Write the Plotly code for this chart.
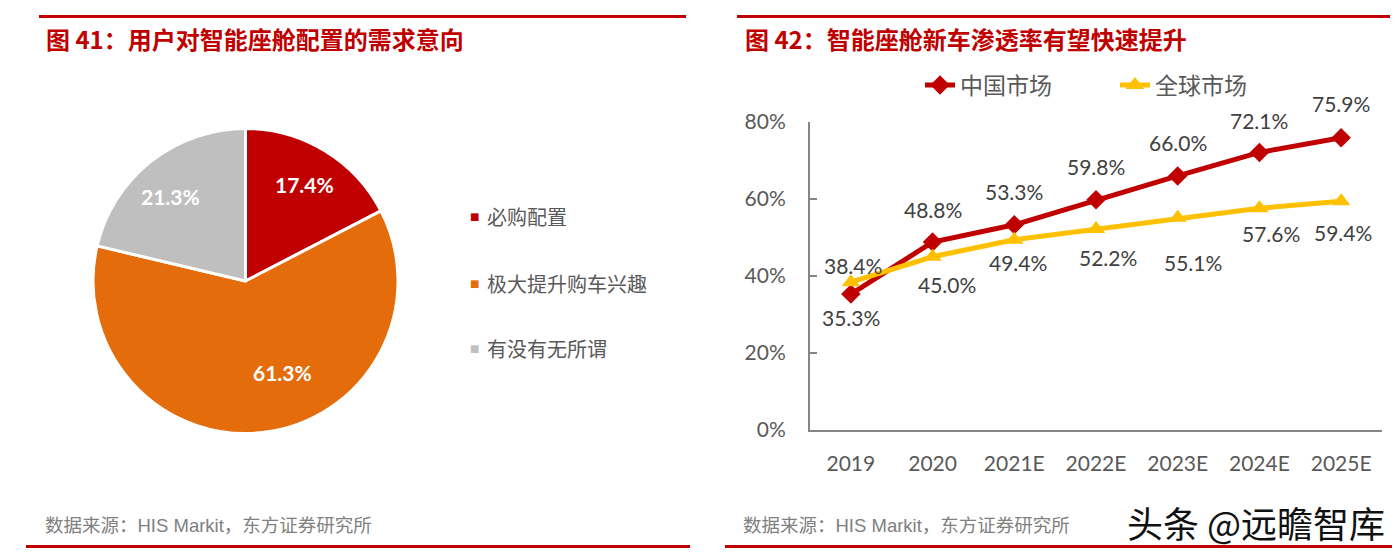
import math
import plotly.graph_objects as go

W, H = 1396, 559

# ---------------- data ----------------
pie_labels = ["必购配置", "极大提升购车兴趣", "有没有无所谓"]
pie_values = [17.4, 61.3, 21.3]
pie_colors = ["#C00000", "#E46C0A", "#BFBFBF"]

years = ["2019", "2020", "2021E", "2022E", "2023E", "2024E", "2025E"]
china = [35.3, 48.8, 53.3, 59.8, 66.0, 72.1, 75.9]
world = [38.4, 45.0, 49.4, 52.2, 55.1, 57.6, 59.4]
y_ticks = [0, 20, 40, 60, 80]
y_ticklabels = ["0%", "20%", "40%", "60%", "80%"]

title_left = "图 41：用户对智能座舱配置的需求意向"
title_right = "图 42：智能座舱新车渗透率有望快速提升"
source_text = "数据来源：HIS Markit，东方证券研究所"
watermark = "头条 @远瞻智库"

# ---------------- style ----------------
# label offsets in px: positive = up
china_shift = [-23, 33, 33, 33, 33, 32, 34]
world_shift = [17, -28, -23, -28, -45, -25, -31]
world_xshift = [2, 14, 4, 12, 15, 12, 2]
# pie label placement: radius fraction and angular tweak (deg) per slice
pie_label_rf = [0.74, 0.65, 0.74]
pie_label_dang = [0, -15, -3]

RED = "#C00000"
GOLD = "#FFC000"
TXT = "#595959"
NUM_FONT = "Lato, Noto Sans CJK SC, sans-serif"
CJK_FONT = "Noto Sans CJK SC, sans-serif"

PIE_L, PIE_R, PIE_T, PIE_B = 93, 398, 128, 434


def px(x):
    return x / W


def py(y):
    return 1 - y / H


fig = go.Figure()

# ---------------- pie ----------------
fig.add_trace(go.Pie(
    labels=pie_labels,
    values=pie_values,
    sort=False,
    direction="clockwise",
    rotation=0,
    marker=dict(colors=pie_colors, line=dict(color="white", width=3)),
    textinfo="none",
    domain=dict(x=[px(PIE_L), px(PIE_R)], y=[py(PIE_B), py(PIE_T)]),
    showlegend=False,
    hoverinfo="label+percent",
))

# ---------------- lines ----------------
fig.add_trace(go.Scatter(
    x=years, y=china, name="中国市场", mode="lines+markers",
    line=dict(color=RED, width=5),
    marker=dict(symbol="diamond", size=15, color=RED),
    xaxis="x", yaxis="y",
))
fig.add_trace(go.Scatter(
    x=years, y=world, name="全球市场", mode="lines+markers",
    line=dict(color=GOLD, width=5),
    marker=dict(symbol="triangle-up", size=16, color=GOLD),
    xaxis="x", yaxis="y",
))

annotations = []
# category axis: annotations use the category index
for i, v in enumerate(china):
    annotations.append(dict(
        x=i, y=v, xref="x", yref="y", text=f"{v:.1f}%", showarrow=False,
        yshift=china_shift[i], font=dict(family=NUM_FONT, size=21, color="#404040"),
    ))
for i, v in enumerate(world):
    annotations.append(dict(
        x=i, y=v, xref="x", yref="y", text=f"{v:.1f}%", showarrow=False,
        yshift=world_shift[i], xshift=world_xshift[i],
        font=dict(family=NUM_FONT, size=21, color="#404040"),
    ))

# pie slice labels, placed from the slice angles
cx, cy = (PIE_L + PIE_R) / 2, (PIE_T + PIE_B) / 2
R = min(PIE_R - PIE_L, PIE_B - PIE_T) / 2
total = sum(pie_values)
cum = 0.0
for i, v in enumerate(pie_values):
    ang = math.radians((cum + v / 2) / total * 360 + pie_label_dang[i])
    cum += v
    r = R * pie_label_rf[i]
    lx, ly = cx + r * math.sin(ang), cy - r * math.cos(ang)
    annotations.append(dict(
        x=px(lx), y=py(ly), xref="paper", yref="paper", text=f"<b>{v:.1f}%</b>",
        showarrow=False, xanchor="center", yanchor="middle",
        font=dict(family=NUM_FONT, size=21, color="white"),
    ))

# pie legend (manual, to match spacing)
legend_y = [216, 283, 348]
for lab, col, yy in zip(pie_labels, pie_colors, legend_y):
    annotations.append(dict(
        x=px(474), y=py(yy), xref="paper", yref="paper", text="■",
        showarrow=False, xanchor="center", yanchor="middle",
        font=dict(family="DejaVu Sans", size=10, color=col),
    ))
    annotations.append(dict(
        x=px(485), y=py(yy), xref="paper", yref="paper", text=lab,
        showarrow=False, xanchor="left", yanchor="middle",
        font=dict(family=CJK_FONT, size=20, color=TXT),
    ))

# titles
for tx, xx in [(title_left, 44), (title_right, 743)]:
    annotations.append(dict(
        x=px(xx), y=py(38), xref="paper", yref="paper", text=f"<b>{tx}</b>",
        showarrow=False, xanchor="left", yanchor="middle",
        font=dict(family=CJK_FONT, size=24, color=RED),
    ))
# sources
for xx in [43, 741]:
    annotations.append(dict(
        x=px(xx), y=py(525), xref="paper", yref="paper", text=source_text,
        showarrow=False, xanchor="left", yanchor="middle",
        font=dict(family="Liberation Sans, Noto Sans CJK SC, sans-serif", size=18.5, color="#808080"),
    ))
# watermark
annotations.append(dict(
    x=px(1387), y=py(522), xref="paper", yref="paper", text=watermark,
    showarrow=False, xanchor="right", yanchor="middle",
    font=dict(family=CJK_FONT, size=36, color="#111111"),
))

shapes = []
for x0, x1, yy in [(39, 686, 16.5), (737, 1390, 16.5), (26, 690, 546.5), (725, 1392, 546.5)]:
    shapes.append(dict(type="line", xref="paper", yref="paper",
                       x0=px(x0), x1=px(x1), y0=py(yy), y1=py(yy),
                       line=dict(color=RED, width=3)))

fig.update_layout(
    width=W, height=H, autosize=False,
    margin=dict(l=0, r=0, t=0, b=0, autoexpand=False),
    paper_bgcolor="white", plot_bgcolor="white",
    showlegend=True,
    legend=dict(
        orientation="h", x=px(920), y=py(85), xanchor="left", yanchor="middle",
        font=dict(family=CJK_FONT, size=23, color=TXT),
        bgcolor="rgba(0,0,0,0)", entrywidth=150, entrywidthmode="pixels",
    ),
    xaxis=dict(
        domain=[px(810), px(1382)], range=[-0.5, 6.5], type="category",
        showline=True, linecolor="#868686", linewidth=2,
        showgrid=False, zeroline=False, ticks="", automargin=False,
        tickfont=dict(family=NUM_FONT, size=21, color=TXT),
        ticklabelstandoff=14,
    ),
    yaxis=dict(
        domain=[py(430), py(122)], range=[0, 80],
        tickvals=y_ticks, ticktext=y_ticklabels,
        showline=True, linecolor="#868686", linewidth=2,
        ticks="inside", ticklen=7, tickcolor="#868686", tickwidth=2,
        showgrid=False, zeroline=False, automargin=False,
        tickfont=dict(family=NUM_FONT, size=21, color=TXT),
        ticklabelstandoff=18,
    ),
    annotations=annotations,
    shapes=shapes,
)

fig.write_html(
    "out.html",
    config={"displayModeBar": False},
    post_script="document.body.style.margin='0';document.body.style.overflow='hidden';",
)
